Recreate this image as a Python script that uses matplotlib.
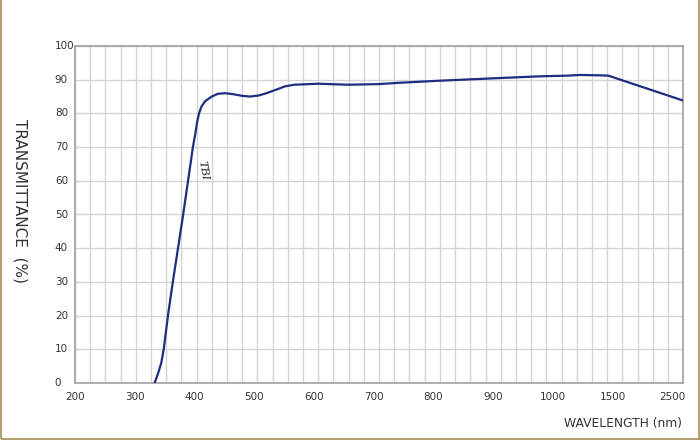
import numpy as np
import matplotlib
matplotlib.use("Agg")
import matplotlib.pyplot as plt
from matplotlib.patches import Rectangle

# tick wavelengths (nm) - axis is evenly spaced between these labels
tick_nm = [200, 300, 400, 500, 600, 700, 800, 900, 1000, 1500, 2500]
y_ticks = list(range(0, 101, 10))

# TBI transmittance curve
wavelength = [331, 337, 342, 346, 353, 361, 369.5, 378, 386, 394, 398, 401, 404, 408,
              414, 425, 435, 447, 460, 475, 488, 502, 515, 532, 545, 560, 600, 650,
              700, 735, 800, 900, 965, 1050, 1150, 1300, 1385, 1600, 2000, 2500]
transmit = [0, 3, 6, 10, 20, 30, 40, 50, 60, 70, 74, 77.5, 80, 82,
            83.6, 85, 85.8, 86.0, 85.7, 85.2, 85.0, 85.3, 86.0, 87.1, 88.0, 88.5, 88.8, 88.5,
            88.7, 89.1, 89.7, 90.5, 91.0, 91.2, 91.4, 91.3, 91.2, 89.2, 86.8, 83.8]

idx = np.arange(len(tick_nm))


def fwd(x):
    return np.interp(x, tick_nm, idx)


def inv(i):
    return np.interp(i, idx, tick_nm)


fig = plt.figure(figsize=(7, 4.4), dpi=100)
ax = fig.add_axes([0.107, 0.1295, 0.869, 0.766])

ax.set_xscale("function", functions=(fwd, inv))
ax.set_xlim(200, 2500)
ax.set_ylim(0, 100)

ax.plot(wavelength, transmit, color="#202c80", lw=1.6, zorder=3,
        solid_joinstyle="round")
ax.text(411, 63, "TBI", rotation=-80, fontsize=9.5, family="Liberation Serif",
        style="italic", color="#333333", ha="center", va="center")

# grid
ax.set_xticks(tick_nm)
ax.set_xticks(inv(np.arange(0, len(tick_nm) - 1 + 0.01, 0.25)), minor=True)
ax.set_yticks(y_ticks)
ax.grid(True, which="both", axis="x", color="#d4d4d4", lw=1)
ax.grid(True, which="major", axis="y", color="#d4d4d4", lw=1)
ax.tick_params(which="both", length=0, labelbottom=False, labelleft=False)
for s in ax.spines.values():
    s.set_color("#a0a0a0")
    s.set_linewidth(1.2)

# tick labels (the original labels sit slightly left of their grid lines)
for i, t in enumerate(tick_nm):
    ax.text(i * 0.0982, -0.042, str(t), transform=ax.transAxes, ha="center",
            va="center", fontsize=7.5, color="#333333")
for t in y_ticks:
    ax.text(-0.033, t, str(t), transform=ax.get_yaxis_transform(), ha="left",
            va="center", fontsize=7.5, color="#333333")

fig.text(0.029, 0.543, "TRANSMITTANCE  (%)", rotation=270, ha="center", va="center",
         fontsize=11, color="#333333")
fig.text(0.975, 0.037, "WAVELENGTH (nm)", ha="right", va="center",
         fontsize=8.8, color="#333333")

fig.patches.append(Rectangle((0.001, 0.002), 0.997, 1.2, transform=fig.transFigure,
                             fill=False, edgecolor="#b4a06e", lw=1.5))

fig.savefig("out.png", dpi=100)
